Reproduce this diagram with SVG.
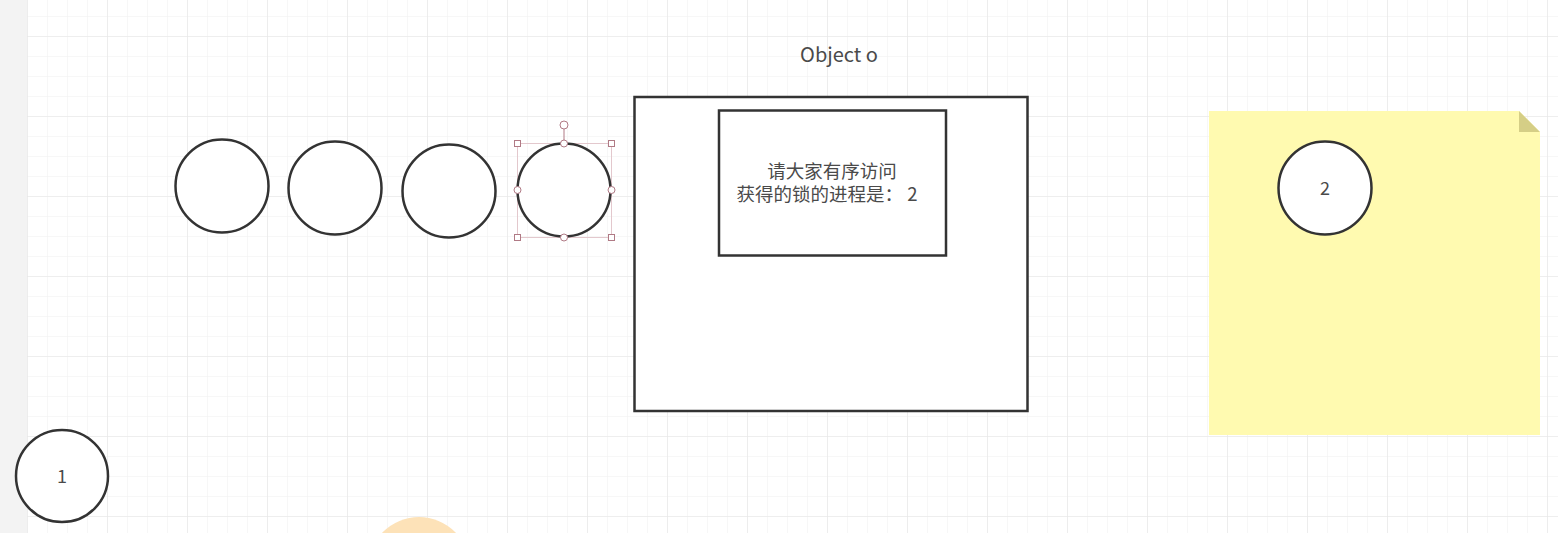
<svg xmlns="http://www.w3.org/2000/svg" width="1558" height="533" viewBox="0 0 1558 533">
<defs>
<pattern id="minor" x="27" y="36" width="20" height="20" patternUnits="userSpaceOnUse">
<path d="M0 0H20M0 0V20" fill="none" stroke="#f0f0f0" stroke-width="1"/>
</pattern>
<pattern id="major" x="27" y="36" width="80" height="80" patternUnits="userSpaceOnUse">
<path d="M0 0H80M0 0V80" fill="none" stroke="#e6e6e6" stroke-width="1.2"/>
</pattern>
</defs>
<style>
.shape{fill:#fff;stroke:#333;stroke-width:2.5}
.box{fill:#fff;stroke:#333;stroke-width:2.5}
.lbl{font-family:"Noto Sans CJK SC","Noto Sans",sans-serif;fill:#4a4a4a;text-anchor:middle}
.sel{fill:#fff;stroke:#b07a85;stroke-width:1}
</style>
<rect width="1558" height="533" fill="#fff"/>
<rect x="27" y="0" width="1531" height="533" fill="url(#minor)"/>
<rect x="27" y="0" width="1531" height="533" fill="url(#major)"/>
<rect x="0" y="0" width="27" height="533" fill="#f3f3f3"/>
<circle cx="419" cy="568" r="51" fill="#fde2b8"/>
<g id="title"><text class="lbl" x="839" y="62" font-size="20">Object o</text></g>
<g id="outer"><rect class="box" x="634.5" y="97" width="393" height="314"/></g>
<g id="inner">
<rect class="box" x="719" y="110.5" width="227" height="145"/>
<text class="lbl" x="832" y="178" font-size="18.5">请大家有序访问</text>
<text class="lbl" x="827" y="201" font-size="18.5">获得的锁的进程是： 2</text>
</g>
<g id="sticky">
<path d="M1209 111H1519L1540 132V435H1209Z" fill="#fffab0"/>
<path d="M1519 111V132H1540Z" fill="#d5ce86"/>
</g>
<g id="c1"><circle class="shape" cx="222" cy="186" r="46.5"/></g>
<g id="c2"><circle class="shape" cx="335" cy="188" r="46.5"/></g>
<g id="c3"><circle class="shape" cx="449" cy="191" r="46.5"/></g>
<g id="c4">
<rect x="517.5" y="143.5" width="94" height="94" fill="none" stroke="#e3c8cd" stroke-width="1"/>
<circle class="shape" cx="564" cy="190" r="46.5"/>
<line x1="564" y1="129" x2="564" y2="143" stroke="#b07a85" stroke-width="1"/>
<circle class="sel" cx="564" cy="125" r="4"/>
<rect class="sel" x="514.5" y="140.5" width="6" height="6"/>
<rect class="sel" x="608.5" y="140.5" width="6" height="6"/>
<rect class="sel" x="514.5" y="234.5" width="6" height="6"/>
<rect class="sel" x="608.5" y="234.5" width="6" height="6"/>
<circle class="sel" cx="564" cy="143.5" r="3.5"/>
<circle class="sel" cx="564" cy="237.5" r="3.5"/>
<circle class="sel" cx="517.5" cy="190" r="3.5"/>
<circle class="sel" cx="611.5" cy="190" r="3.5"/>
</g>
<g id="n2">
<circle class="shape" cx="1325" cy="188" r="46.5"/>
<text class="lbl" x="1325" y="195" font-size="18">2</text>
</g>
<g id="n1">
<circle class="shape" cx="62" cy="476" r="46"/>
<text class="lbl" x="62" y="483" font-size="18">1</text>
</g>
<g id="connectors"></g>
</svg>
